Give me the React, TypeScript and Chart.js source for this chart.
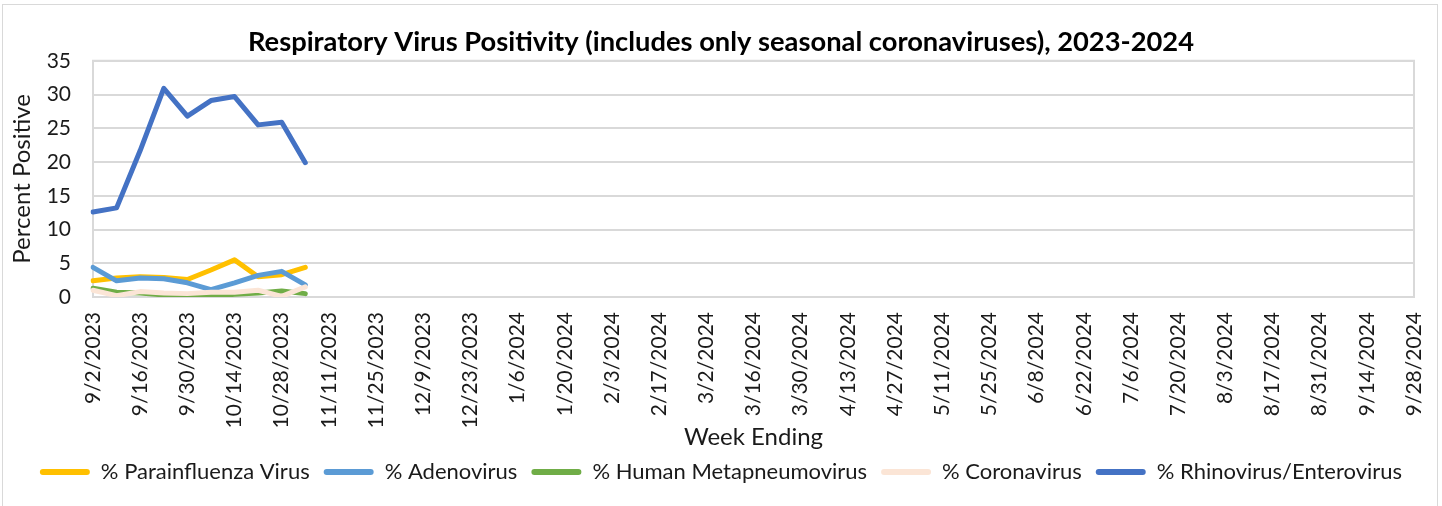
import React, { useEffect, useRef } from "react";
import { Chart, registerables } from "chart.js";

Chart.register(...registerables);

const weekLabels: string[] = [
  "9/2/2023", "9/9/2023", "9/16/2023", "9/23/2023", "9/30/2023", "10/7/2023", "10/14/2023", "10/21/2023",
  "10/28/2023", "11/4/2023", "11/11/2023", "11/18/2023", "11/25/2023", "12/2/2023", "12/9/2023", "12/16/2023",
  "12/23/2023", "12/30/2023", "1/6/2024", "1/13/2024", "1/20/2024", "1/27/2024", "2/3/2024", "2/10/2024",
  "2/17/2024", "2/24/2024", "3/2/2024", "3/9/2024", "3/16/2024", "3/23/2024", "3/30/2024", "4/6/2024",
  "4/13/2024", "4/20/2024", "4/27/2024", "5/4/2024", "5/11/2024", "5/18/2024", "5/25/2024", "6/1/2024",
  "6/8/2024", "6/15/2024", "6/22/2024", "6/29/2024", "7/6/2024", "7/13/2024", "7/20/2024", "7/27/2024",
  "8/3/2024", "8/10/2024", "8/17/2024", "8/24/2024", "8/31/2024", "9/7/2024", "9/14/2024", "9/21/2024",
  "9/28/2024",
];

const parainfluenza: number[] = [2.4, 2.8, 3.0, 2.9, 2.6, 4.0, 5.5, 3.0, 3.3, 4.4];
const adenovirus: number[] = [4.4, 2.4, 2.8, 2.7, 2.1, 1.1, 2.1, 3.2, 3.8, 1.8];
const metapneumovirus: number[] = [1.3, 0.7, 0.6, 0.3, 0.1, 0.1, 0.4, 0.6, 0.9, 0.5];
const coronavirus: number[] = [1.0, 0.2, 0.8, 0.6, 0.5, 0.7, 0.7, 1.0, 0.1, 1.5];
const rhinovirus: number[] = [12.6, 13.2, 21.7, 30.9, 26.8, 29.1, 29.7, 25.5, 25.9, 19.9];

const seriesNames: string[] = [
  "% Parainfluenza Virus",
  "% Adenovirus",
  "% Human Metapneumovirus",
  "% Coronavirus",
  "% Rhinovirus/Enterovirus",
];
const seriesColors: string[] = ["#FFC000", "#5B9BD5", "#70AD47", "#FBE5D6", "#4472C4"];
const seriesData: number[][] = [parainfluenza, adenovirus, metapneumovirus, coronavirus, rhinovirus];

const yTicks = { min: 0, max: 35, step: 5 };

const FONT = "Lato, 'Open Sans', sans-serif";
const TEXT = "#1a1a1a";

const plotBorder = {
  id: "plotBorder",
  beforeDatasetsDraw(chart: any) {
    const { ctx, chartArea } = chart;
    ctx.save();
    ctx.strokeStyle = "#d9d9d9";
    ctx.lineWidth = 2;
    ctx.strokeRect(chartArea.left, chartArea.top, chartArea.right - chartArea.left, chartArea.bottom - chartArea.top);
    ctx.restore();
  },
};

export default function App() {
  const ref = useRef<HTMLCanvasElement | null>(null);

  useEffect(() => {
    if (!ref.current) return;
    const n = seriesNames.length;
    const chart = new Chart(ref.current, {
      type: "line",
      data: {
        labels: weekLabels,
        datasets: seriesNames.map((name, i) => ({
          label: name,
          data: seriesData[i],
          borderColor: seriesColors[i],
          backgroundColor: seriesColors[i],
          borderWidth: 5,
          pointRadius: 0,
          pointHoverRadius: 0,
          tension: 0,
          fill: false,
          borderJoinStyle: "round" as const,
          borderCapStyle: "round" as const,
          order: n - i,
        })),
      },
      plugins: [plotBorder],
      options: {
        animation: false,
        responsive: false,
        maintainAspectRatio: false,
        layout: { padding: { left: 12, right: 12, top: 0, bottom: 13 } },
        plugins: {
          tooltip: { enabled: false },
          title: {
            display: true,
            text: "Respiratory Virus Positivity (includes only seasonal coronaviruses), 2023-2024",
            color: "#000",
            font: { family: FONT, size: 27.3, weight: "bold" },
            padding: { top: 26, bottom: 2 },
          },
          legend: {
            position: "bottom",
            labels: {
              color: TEXT,
              font: { family: FONT, size: 22 },
              boxWidth: 50,
              boxHeight: 6,
              padding: 14,
              useBorderRadius: true,
              borderRadius: 3,
              generateLabels: () =>
                seriesNames.map((name, i) => ({
                  text: name,
                  fillStyle: seriesColors[i],
                  strokeStyle: seriesColors[i],
                  lineWidth: 0,
                  hidden: false,
                  datasetIndex: i,
                  borderRadius: 3,
                  fontColor: TEXT,
                })),
            },
          },
        },
        scales: {
          x: {
            type: "category",
            offset: false,
            grid: { display: false, drawTicks: false },
            border: { display: false },
            ticks: {
              autoSkip: false,
              maxRotation: 90,
              minRotation: 90,
              padding: 15,
              color: TEXT,
              font: { family: FONT, size: 21 },
              callback: function (this: any, value: any, index: number) {
                return index % 2 === 0 ? this.getLabelForValue(value) : "";
              },
            },
            title: {
              display: true,
              text: "Week Ending",
              color: TEXT,
              font: { family: FONT, size: 24 },
              padding: { top: 0, bottom: -5 },
            },
            afterFit: (s: any) => {
              s.height = 150;
              s.paddingRight = 28;
              s.paddingLeft = 0;
            },
          },
          y: {
            min: yTicks.min,
            max: yTicks.max,
            grid: { color: "#d9d9d9", lineWidth: 2, drawTicks: false },
            border: { display: false },
            ticks: {
              stepSize: yTicks.step,
              padding: 22,
              color: TEXT,
              font: { family: FONT, size: 21 },
            },
            title: {
              display: true,
              text: "Percent Positive",
              color: TEXT,
              font: { family: FONT, size: 24 },
              padding: { top: -4, bottom: 0 },
            },
            afterFit: (s: any) => {
              s.width = 81;
            },
          },
        },
      },
    } as any);
    return () => chart.destroy();
  }, []);

  return (
    <div style={{ position: "fixed", left: 0, top: 0, width: 1442, height: 506, overflow: "hidden", background: "#fff" }}>
      <div
        style={{
          position: "absolute",
          left: 2,
          top: 4,
          width: 1436,
          height: 520,
          border: "1.5px solid #d9d9d9",
          boxSizing: "border-box",
        }}
      />
      <canvas ref={ref} width={1442} height={506} style={{ position: "absolute", left: 0, top: 0, display: "block" }} />
    </div>
  );
}
